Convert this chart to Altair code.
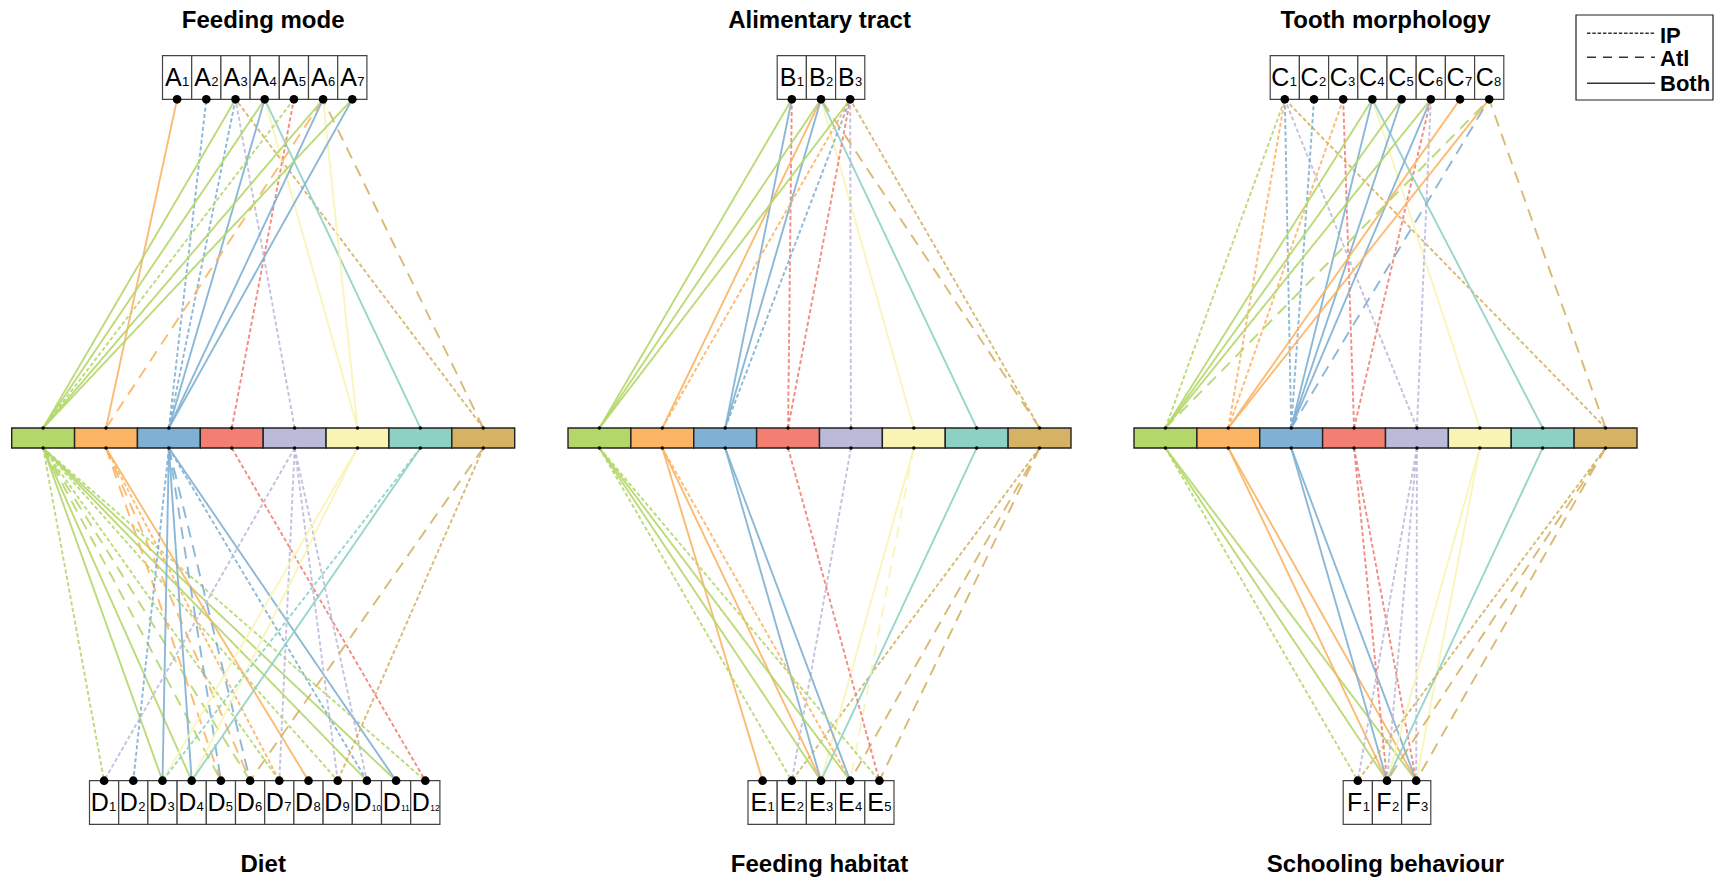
import altair as alt
import pandas as pd

# ---------------------------------------------------------------- data
GROUPS = ["g1", "g2", "g3", "g4", "g5", "g6", "g7", "g8"]
GROUP_COLORS = ["#b4d76a", "#fbb463", "#80b0d3", "#f27f72",
                "#bcbad9", "#f9f4b4", "#8dd1c4", "#d5b264"]
STYLES = ["IP", "Atl", "Both"]

TOP_TITLES = ["Feeding mode", "Alimentary tract", "Tooth morphology"]
BOTTOM_TITLES = ["Diet", "Feeding habitat", "Schooling behaviour"]
TOP_LETTERS = ["A", "B", "C"]
TOP_COUNTS = [7, 3, 8]
BOTTOM_LETTERS = ["D", "E", "F"]
BOTTOM_COUNTS = [12, 5, 3]

# links: (group number 1-8, trait state number, occurrence)
FEEDING_MODE = [
    (2, 1, "Both"),
    (3, 2, "IP"),
    (1, 3, "Both"), (3, 3, "IP"), (5, 3, "IP"), (8, 3, "IP"),
    (1, 4, "Both"), (3, 4, "Both"), (6, 4, "Both"), (7, 4, "Both"),
    (1, 5, "IP"), (4, 5, "IP"),
    (1, 6, "Both"), (2, 6, "Atl"), (3, 6, "Both"), (6, 6, "Both"), (8, 6, "Atl"),
    (1, 7, "Both"), (3, 7, "Both"),
]
DIET = [
    (1, 1, "IP"), (1, 3, "Both"), (1, 4, "Both"), (1, 5, "Atl"), (1, 6, "Atl"),
    (1, 7, "IP"), (1, 9, "IP"), (1, 10, "Both"), (1, 11, "Both"), (1, 12, "IP"),
    (2, 5, "Atl"), (2, 6, "Atl"), (2, 7, "IP"), (2, 8, "Both"),
    (3, 2, "IP"), (3, 3, "Both"), (3, 4, "Both"), (3, 5, "Atl"), (3, 6, "Atl"),
    (3, 10, "IP"), (3, 11, "Both"),
    (4, 12, "IP"),
    (5, 1, "IP"), (5, 7, "IP"), (5, 9, "IP"), (5, 10, "IP"),
    (6, 3, "Both"), (6, 4, "Both"),
    (7, 3, "IP"), (7, 4, "Both"),
    (8, 6, "Atl"), (8, 9, "IP"),
]
ALIMENTARY_TRACT = [
    (1, 1, "Both"), (3, 1, "Both"), (4, 1, "IP"),
    (1, 2, "Both"), (2, 2, "Both"), (3, 2, "Both"), (6, 2, "Both"),
    (7, 2, "Both"), (8, 2, "Atl"),
    (1, 3, "Both"), (2, 3, "IP"), (3, 3, "IP"), (4, 3, "IP"), (5, 3, "IP"), (8, 3, "IP"),
]
FEEDING_HABITAT = [
    (2, 1, "Both"),
    (1, 2, "IP"), (5, 2, "IP"), (8, 2, "IP"),
    (1, 3, "Both"), (2, 3, "Both"), (3, 3, "Both"), (6, 3, "Both"), (7, 3, "Both"),
    (1, 4, "Both"), (2, 4, "IP"), (3, 4, "Both"), (6, 4, "Atl"), (8, 4, "Atl"),
    (1, 5, "IP"), (4, 5, "IP"), (8, 5, "Atl"),
]
TOOTH_MORPHOLOGY = [
    (1, 1, "IP"), (2, 1, "IP"), (3, 1, "IP"), (5, 1, "IP"), (8, 1, "IP"),
    (3, 2, "IP"),
    (2, 3, "IP"), (4, 3, "IP"),
    (1, 4, "Both"), (3, 4, "Both"), (6, 4, "Both"), (7, 4, "Both"),
    (1, 5, "Both"), (3, 5, "Both"),
    (1, 6, "Both"), (3, 6, "Both"), (4, 6, "IP"), (5, 6, "IP"),
    (2, 7, "Both"),
    (1, 8, "Atl"), (2, 8, "Both"), (3, 8, "Atl"), (8, 8, "Atl"),
]
SCHOOLING = [
    (1, 1, "IP"), (1, 2, "Both"), (1, 3, "Both"),
    (2, 2, "Both"), (2, 3, "Both"),
    (3, 2, "Both"), (3, 3, "Both"),
    (4, 2, "IP"), (4, 3, "IP"),
    (5, 1, "IP"), (5, 2, "IP"), (5, 3, "IP"),
    (6, 2, "Both"), (6, 3, "Both"),
    (7, 2, "Both"),
    (8, 1, "IP"), (8, 2, "Atl"), (8, 3, "Atl"),
]
TOP_LINKS = [FEEDING_MODE, ALIMENTARY_TRACT, TOOTH_MORPHOLOGY]
BOTTOM_LINKS = [DIET, FEEDING_HABITAT, SCHOOLING]

# ---------------------------------------------------------------- layout
W, H = 1717, 882
PANEL_LEFT = [11.7, 568.0, 1134.0]
BAR_WIDTH = 503.0
BAR_Y0, BAR_Y1 = 428.0, 448.0
BOX_W = 29.2
BOX_SHIFT = 1.5
TOP_BOX_Y0, TOP_BOX_Y1 = 55.7, 99.3
BOT_BOX_Y0, BOT_BOX_Y1 = 780.7, 824.3
LABEL_OFFSET = 30.5


def cell_center(p, g):
    return PANEL_LEFT[p] + (g - 0.5) * BAR_WIDTH / 8


def panel_center(p):
    return PANEL_LEFT[p] + BAR_WIDTH / 2


def box_center(p, k, n):
    return panel_center(p) + BOX_SHIFT + (k - (n + 1) / 2) * BOX_W


cells, links, boxes, big_dots, small_dots, letters, digits, titles = ([] for _ in range(8))

for p in range(3):
    for g in range(1, 9):
        left = PANEL_LEFT[p] + (g - 1) * BAR_WIDTH / 8
        cells.append(dict(x=left, x2=left + BAR_WIDTH / 8, y=BAR_Y0, y2=BAR_Y1,
                          group=GROUPS[g - 1]))
        small_dots.append(dict(x=cell_center(p, g), y=BAR_Y0))
        small_dots.append(dict(x=cell_center(p, g), y=BAR_Y1))

    for side in ("top", "bottom"):
        if side == "top":
            letter, n, lk = TOP_LETTERS[p], TOP_COUNTS[p], TOP_LINKS[p]
            y0, y1, dot_y, bar_y = TOP_BOX_Y0, TOP_BOX_Y1, TOP_BOX_Y1, BAR_Y0
        else:
            letter, n, lk = BOTTOM_LETTERS[p], BOTTOM_COUNTS[p], BOTTOM_LINKS[p]
            y0, y1, dot_y, bar_y = BOT_BOX_Y0, BOT_BOX_Y1, BOT_BOX_Y0, BAR_Y1
        for k in range(1, n + 1):
            c = box_center(p, k, n)
            boxes.append(dict(x=c - BOX_W / 2, x2=c + BOX_W / 2, y=y0, y2=y1))
            big_dots.append(dict(x=c, y=dot_y))
            letters.append(dict(x=c + 4.6, y=y0 + LABEL_OFFSET, t=letter))
            digits.append(dict(x=c + 4.9, y=y0 + LABEL_OFFSET, t=str(k),
                               fs=13 if k < 10 else 8.5))
        for g, k, style in lk:
            links.append(dict(x=cell_center(p, g), y=bar_y,
                              x2=box_center(p, k, n), y2=dot_y,
                              group=GROUPS[g - 1], style=style))

    titles.append(dict(x=panel_center(p), y=28, t=TOP_TITLES[p]))
    titles.append(dict(x=panel_center(p), y=872, t=BOTTOM_TITLES[p]))

legend_rows = pd.DataFrame({
    "style": STYLES,
    "x": [1587.0] * 3, "x2": [1655.0] * 3,
    "y": [33.3, 57.3, 83.3],
    "ty": [42.5, 66.0, 90.5],
    "tx": [1660.0] * 3,
})
legend_box = pd.DataFrame([dict(x=1576, x2=1713, y=15, y2=100)])

# ---------------------------------------------------------------- scales
xs = alt.Scale(domain=[0, W], range=[0, W], nice=False, zero=False)
ys = alt.Scale(domain=[0, H], range=[0, H], nice=False, zero=False)
dash_scale = alt.Scale(domain=STYLES, range=[[4, 2.5], [12, 8], [1, 0]])
legend_dash_scale = alt.Scale(domain=STYLES, range=[[3.5, 1.8], [9, 7], [1, 0]])
FONT = "Liberation Sans"


def X(f="x"):
    return alt.X(f"{f}:Q", scale=xs, axis=None)


def Y(f="y"):
    return alt.Y(f"{f}:Q", scale=ys, axis=None)


link_layer = alt.Chart(pd.DataFrame(links)).mark_rule(
    strokeWidth=1.9, opacity=0.9
).encode(
    x=X(), y=Y(), x2="x2:Q", y2="y2:Q",
    color=alt.Color("group:N", scale=alt.Scale(domain=GROUPS, range=GROUP_COLORS), legend=None),
    strokeDash=alt.StrokeDash("style:N", scale=dash_scale, legend=None),
)

cell_layer = alt.Chart(pd.DataFrame(cells)).mark_rect(
    stroke="#222222", strokeWidth=1.4
).encode(
    x=X(), x2="x2:Q", y=Y(), y2="y2:Q",
    fill=alt.Fill("group:N", scale=alt.Scale(domain=GROUPS, range=GROUP_COLORS), legend=None),
)

box_layer = alt.Chart(pd.DataFrame(boxes)).mark_rect(
    fill="white", stroke="#444444", strokeWidth=1.2
).encode(x=X(), x2="x2:Q", y=Y(), y2="y2:Q")

big_dot_layer = alt.Chart(pd.DataFrame(big_dots)).mark_point(
    filled=True, color="black", size=75, opacity=1
).encode(x=X(), y=Y())

small_dot_layer = alt.Chart(pd.DataFrame(small_dots)).mark_point(
    filled=True, color="black", size=12, opacity=1
).encode(x=X(), y=Y())

letter_layer = alt.Chart(pd.DataFrame(letters)).mark_text(
    align="right", baseline="alphabetic", font=FONT, fontSize=25, color="black"
).encode(x=X(), y=Y(), text="t:N")

digit_layer = alt.Chart(pd.DataFrame(digits)).mark_text(
    align="left", baseline="alphabetic", font=FONT, color="black"
).encode(x=X(), y=Y(), text="t:N", size=alt.Size("fs:Q", scale=None))

title_layer = alt.Chart(pd.DataFrame(titles)).mark_text(
    align="center", baseline="alphabetic", font=FONT, fontSize=24,
    fontWeight="bold", color="black"
).encode(x=X(), y=Y(), text="t:N")

legend_frame = alt.Chart(legend_box).mark_rect(
    fill="white", stroke="#222222", strokeWidth=1.2
).encode(x=X(), x2="x2:Q", y=Y(), y2="y2:Q")

legend_lines = alt.Chart(legend_rows).mark_rule(
    strokeWidth=1.6, color="#333333"
).encode(
    x=X(), x2="x2:Q", y=Y(), y2="y:Q",
    strokeDash=alt.StrokeDash("style:N", scale=legend_dash_scale, legend=None),
)

legend_text = alt.Chart(legend_rows).mark_text(
    align="left", baseline="alphabetic", font=FONT, fontSize=22,
    fontWeight="bold", color="black"
).encode(x=X("tx"), y=Y("ty"), text="style:N")

chart = alt.layer(
    link_layer, cell_layer, box_layer, big_dot_layer, small_dot_layer,
    letter_layer, digit_layer, title_layer,
    legend_frame, legend_lines, legend_text,
).resolve_scale(strokeDash="independent").properties(
    width=W, height=H, autosize="none", padding=0, background="white"
).configure_view(stroke=None)

chart.save("out.html", embed_options={"renderer": "svg", "actions": False})
